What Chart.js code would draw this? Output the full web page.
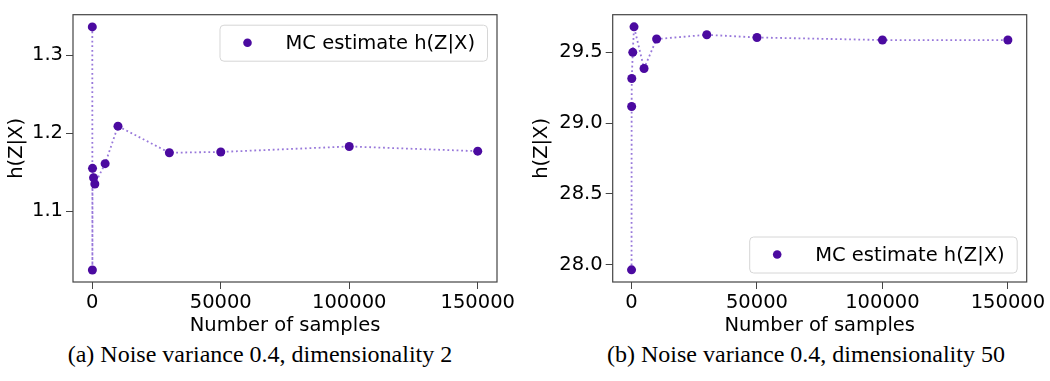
<!DOCTYPE html>
<html>
<head>
<meta charset="utf-8">
<script src="https://cdn.jsdelivr.net/npm/chart.js@4.4.1/dist/chart.umd.min.js"></script>
<style>
  body { margin: 0; width: 1050px; height: 381px; background: #fff; position: relative; overflow: hidden; }
  canvas { position: absolute; top: 0; }
  #chartA { left: 0; }
  #chartB { left: 525px; }
  .caption { position: absolute; top: 342px; line-height: 24px; font-family: 'Liberation Serif', 'Times New Roman', serif;
             font-size: 24px; color: #000; transform: translateX(-50%); white-space: nowrap; }
</style>
</head>
<body>
<canvas id="chartA" width="525" height="340"></canvas>
<canvas id="chartB" width="525" height="340"></canvas>
<div class="caption" style="left:260px">(a) Noise variance 0.4, dimensionality 2</div>
<div class="caption" style="left:806px">(b) Noise variance 0.4, dimensionality 50</div>
<script>
// number of MC samples used for each estimate
const samples = [10, 50, 100, 500, 1000, 5000, 10000, 30000, 50000, 100000, 150000];
// h(Z|X) estimates, noise variance 0.4
const estimateDim2 = [1.336, 1.025, 1.155, 1.143, 1.135, 1.161, 1.209, 1.175, 1.176, 1.183, 1.177];
const estimateDim50 = [27.963, 29.117, 29.315, 29.500, 29.680, 29.386, 29.594, 29.624, 29.605, 29.587, 29.587];
const xTicks = [0, 50000, 100000, 150000];
const yTicksDim2 = [1.1, 1.2, 1.3];
const yTicksDim50 = [28.0, 28.5, 29.0, 29.5];
const legendLabel = 'MC estimate h(Z|X)';

const axisFont = { family: "'DejaVu Sans', sans-serif", size: 19.5 };
const pointColor = '#4b0aa0';
const lineColor = '#9878da';
const frameColor = '#444';

// matplotlib-like box round the plot area
const framePlugin = {
    id: 'frame',
    afterDatasetsDraw(chart) {
        const a = chart.chartArea, ctx = chart.ctx;
        ctx.save();
        ctx.strokeStyle = frameColor;
        ctx.lineWidth = 1.2;
        ctx.strokeRect(a.left, a.top, a.right - a.left, a.bottom - a.top);
        ctx.restore();
    }
};

// legend drawn inside the axes, like loc='best'
const insideLegend = {
    id: 'insideLegend',
    afterDraw(chart, args, opts) {
        const a = chart.chartArea, ctx = chart.ctx;
        ctx.save();
        ctx.font = "19.5px 'DejaVu Sans', sans-serif";
        const tw = ctx.measureText(opts.text).width;
        const w = tw + 78, h = 36;
        const x = a.right - 10 - w;
        const y = opts.corner === 'top' ? a.top + 10 : a.bottom - 9.5 - h;
        ctx.beginPath();
        ctx.roundRect(x + 0.5, y + 0.5, w, h, 4);
        ctx.fillStyle = 'rgba(255,255,255,0.85)';
        ctx.fill();
        ctx.strokeStyle = '#d6d6d6';
        ctx.lineWidth = 1;
        ctx.stroke();
        ctx.beginPath();
        ctx.arc(x + 28, y + h / 2, 4.3, 0, Math.PI * 2);
        ctx.fillStyle = pointColor;
        ctx.fill();
        ctx.fillStyle = '#000';
        ctx.textBaseline = 'middle';
        ctx.fillText(opts.text, x + 66, y + h / 2 + 1);
        ctx.restore();
    }
};

function makeChart(id, values, yTicks, yMin, yMax, yWidth, pad, corner) {
    const ctx = document.getElementById(id).getContext('2d');
    return new Chart(ctx, {
        type: 'scatter',
        data: {
            datasets: [{
                label: legendLabel,
                data: samples.map((s, i) => ({ x: s, y: values[i] })),
                showLine: true,
                borderColor: lineColor,
                borderWidth: 1.8,
                borderDash: [1.8, 2.8],
                pointRadius: 4.5,
                pointBorderWidth: 0,
                pointBackgroundColor: pointColor
            }]
        },
        options: {
            responsive: false,
            animation: false,
            layout: { padding: pad },
            plugins: {
                legend: { display: false },
                tooltip: { enabled: false },
                insideLegend: { text: legendLabel, corner: corner }
            },
            scales: {
                x: {
                    type: 'linear',
                    min: -7500,
                    max: 157500,
                    afterBuildTicks: s => { s.ticks = xTicks.map(v => ({ value: v })); },
                    afterFit: s => { s.height = 58; },
                    ticks: { font: axisFont, color: '#000', padding: 2, maxRotation: 0, autoSkip: false,
                             callback: v => String(v) },
                    grid: { drawOnChartArea: false, tickLength: 7, tickColor: frameColor, tickWidth: 1 },
                    border: { display: false },
                    title: { display: true, text: 'Number of samples', font: axisFont, color: '#000',
                             padding: { top: 0, bottom: 2 } }
                },
                y: {
                    min: yMin,
                    max: yMax,
                    afterBuildTicks: s => { s.ticks = yTicks.map(v => ({ value: v })); },
                    afterFit: s => { s.width = yWidth; },
                    ticks: { font: axisFont, color: '#000', padding: 3, callback: v => v.toFixed(1) },
                    grid: { drawOnChartArea: false, tickLength: 7, tickColor: frameColor, tickWidth: 1 },
                    border: { display: false },
                    title: { display: true, text: 'h(Z|X)', font: axisFont, color: '#000',
                             padding: { top: 5, bottom: 0 } }
                }
            }
        },
        plugins: [framePlugin, insideLegend]
    });
}

makeChart('chartA', estimateDim2, yTicksDim2, 1.0096, 1.3516, 73, { top: 6, right: 28, left: 0, bottom: 0 }, 'top');
makeChart('chartB', estimateDim50, yTicksDim50, 27.877, 29.766, 87.7, { top: 13.3, right: 23.3, left: 0, bottom: 0 }, 'bottom');
</script>
</body>
</html>
